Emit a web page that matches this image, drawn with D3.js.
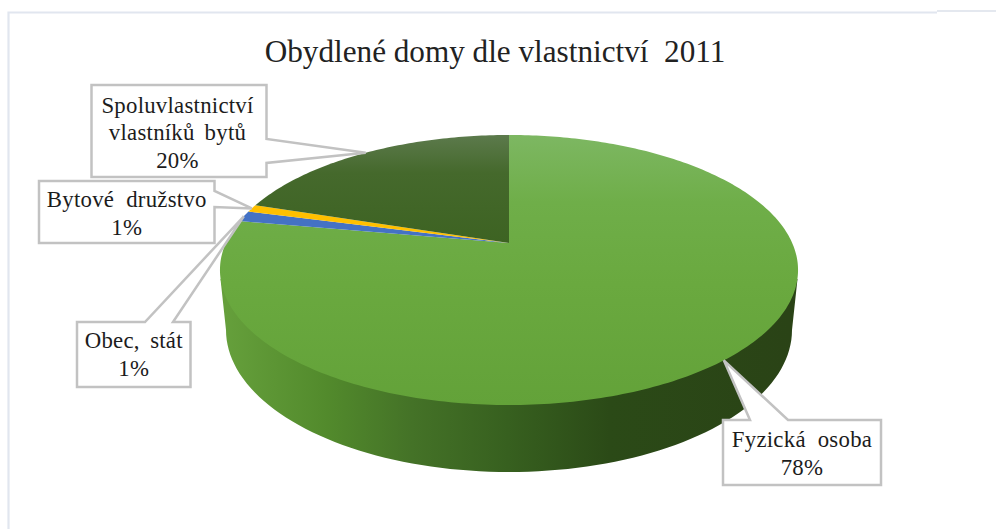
<!DOCTYPE html>
<html><head><meta charset="utf-8">
<script src="https://cdn.jsdelivr.net/npm/d3@7/dist/d3.min.js"></script>
<style>html,body{margin:0;padding:0;background:#fff;overflow:hidden}svg{display:block}</style>
</head><body><div id="chart"></div>
<script>
const titleText = "Obydlené domy dle vlastnictví\u00a0 2011";
const categories = ["Fyzická osoba", "Obec, stát", "Bytové družstvo", "Spoluvlastnictví vlastníků bytů"];
const labelLines = [["Fyzická osoba"], ["Obec, stát"], ["Bytové družstvo"], ["Spoluvlastnictví", "vlastníků bytů"]];
const shares = [77.8, 1.3, 0.9, 20];
const sliceColors = ["url(#gMain)", "#4472c4", "#ffc000", "url(#gDark)"];

const W = 996, H = 529;
const svg = d3.select("#chart").append("svg").attr("width", W).attr("height", H);

// Perspective view of the pie disc
const persp = 0.2;
const xView = d3.scaleLinear().domain([-1, 1]).range([509 - 283.2, 509 + 283.2]);
const yView = d3.scaleLinear().domain([-1, 1]).range([243 + 129.6, 243 - 129.6]);
function project(angle, r = 1) {
  const u = r * Math.sin(angle), v = r * Math.cos(angle), w = 1 + persp * v;
  return [xView(u / w), yView(v / w)];
}
const line = d3.line();
const slices = d3.pie().sort(null).startAngle(0).endAngle(2 * Math.PI)(shares);

const defs = svg.append("defs");
function grad(id, vertical, stops, a, b) {
  const g = defs.append("linearGradient").attr("id", id).attr("gradientUnits", "userSpaceOnUse");
  if (vertical) g.attr("x1", 0).attr("x2", 0).attr("y1", a).attr("y2", b);
  else g.attr("y1", 0).attr("y2", 0).attr("x1", a).attr("x2", b);
  stops.forEach(s => g.append("stop").attr("offset", s[0]).attr("stop-color", s[1]));
}
grad("gMain", true, [[0, "#7db762"], [0.25, "#6fae49"], [0.55, "#6aa93f"], [1, "#63a239"]], 135, 405);
grad("gDark", true, [[0, "#5c7a4c"], [0.35, "#45692c"], [1, "#3d6322"]], 135, 243);
grad("gSide", false, [[0, "#659f3b"], [0.18, "#528a2c"], [0.33, "#447227"], [0.5, "#37601f"], [0.68, "#2b4a17"], [1, "#2a4316"]], 226, 790);

// Page frame
svg.append("path").attr("d", "M8.5,529V12.5H937").attr("fill", "none").attr("stroke", "#e1e6ef").attr("stroke-width", 2.2);
svg.append("path").attr("d", "M937,11H996").attr("fill", "none").attr("stroke", "#e4e8ef").attr("stroke-width", 2);

// Side wall: rim of the lower disc, through the front
const sx = d3.scaleLinear().domain([-1, 1]).range([509 - 283, 509 + 283]);
const sy = d3.scaleLinear().domain([-1, 1]).range([330 - 142, 330 + 142]);
const sideAngles = d3.range(0, 181, 2).map(d => d * Math.PI / 180);
const sidePts = [[220.5, 279]].concat(sideAngles.map(a => [sx(-Math.cos(a)), sy(Math.sin(a))]), [[797.5, 279], [509, 243]]);
svg.append("path").attr("d", line(sidePts) + "Z").attr("fill", "url(#gSide)");

// Top face
svg.append("g").selectAll("path").data(slices).join("path")
  .attr("fill", (d, i) => sliceColors[i])
  .attr("d", d => {
    const n = Math.max(4, Math.ceil((d.endAngle - d.startAngle) * 60));
    const pts = [project(0, 0)];
    for (let k = 0; k <= n; k++) pts.push(project(d.startAngle + (d.endAngle - d.startAngle) * k / n));
    return line(pts) + "Z";
  });

// Callouts: box [x0,y0,x1,y1], the edge the pointer leaves from and its two anchors
const boxes = [
  {b: [723, 420, 881, 485], edge: "top", a: [750, 788], dy: -1, ws: 6},
  {b: [77, 322, 190.5, 387], edge: "top", a: [145, 173], dy: -2, ws: 4.5},
  {b: [39, 181, 214.5, 243], edge: "right", a: [191, 207], dy: -0.5, ws: 6},
  {b: [91.5, 85, 266.5, 177], edge: "right", a: [139, 163], dy: 0, ws: 4}
];
const lineH = 27.5, fontPx = 22.8;
const calloutG = svg.append("g");
const order = [3, 2, 1, 0];
order.forEach(i => {
  const s = slices[i], box = boxes[i], [x0, y0, x1, y1] = box.b;
  const tip = project((s.startAngle + s.endAngle) / 2);
  const pts = box.edge === "top"
    ? [[x0, y0], [box.a[0], y0], tip, [box.a[1], y0], [x1, y0], [x1, y1], [x0, y1]]
    : [[x0, y0], [x1, y0], [x1, box.a[0]], tip, [x1, box.a[1]], [x1, y1], [x0, y1]];
  calloutG.append("path").attr("d", line(pts) + "Z").attr("fill", "#fff")
    .attr("stroke", "#c2c2c2").attr("stroke-width", 2.5).attr("stroke-linejoin", "miter");
  const lines = labelLines[i].concat([d3.format(".0f")(shares[i]) + "%"]);
  const cx = (x0 + x1) / 2 - (i === 3 ? 1.5 : 0), total = lines.length * lineH, top = (y0 + y1) / 2 - total / 2;
  lines.forEach((t, k) => {
    calloutG.append("text").attr("x", cx).attr("y", top + lineH * k + lineH * 0.84 + box.dy)
      .attr("text-anchor", "middle").attr("font-family", "'Liberation Serif'")
      .attr("font-size", fontPx).attr("letter-spacing", 0.25).attr("word-spacing", box.ws)
      .attr("fill", "#1c1c1c").text(t);
  });
});

svg.append("text").attr("x", 495).attr("y", 62).attr("text-anchor", "middle")
  .attr("font-family", "'Liberation Serif'").attr("font-size", 31.2).attr("fill", "#222").text(titleText);
</script></body></html>
